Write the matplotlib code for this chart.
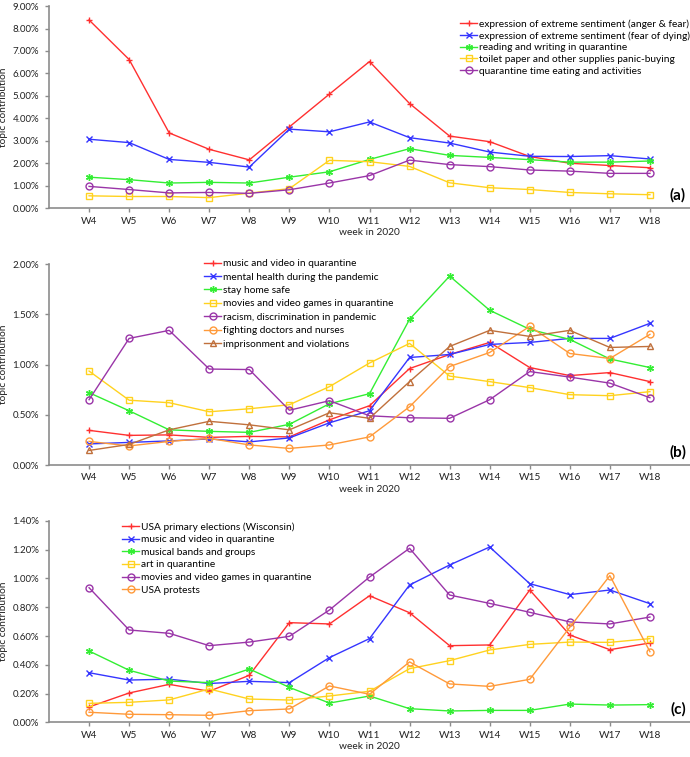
"""
Weekly topic contribution of COVID-19 discussion topics, weeks 4-18 of 2020.

Three stacked panels (a), (b), (c), one line per topic, Excel-like styling.
"""

import matplotlib
matplotlib.use("Agg")
import matplotlib.pyplot as plt
import numpy as np

plt.rcParams["font.family"] = ["Lato", "DejaVu Sans"]

WEEKS = [f"W{i}" for i in range(4, 19)]

# ---- panel (a) ----
A_LABELS = [
    "expression of extreme sentiment (anger & fear)",
    "expression of extreme sentiment (fear of dying)",
    "reading and writing in quarantine",
    "toilet paper and other supplies panic-buying",
    "quarantine time eating and activities",
]
a_anger = [8.38, 6.62, 3.35, 2.62, 2.15, 3.62, 5.08, 6.53, 4.66, 3.21, 2.96, 2.30, 2.00, 1.90, 1.80]
a_dying = [3.07, 2.92, 2.17, 2.04, 1.83, 3.52, 3.40, 3.84, 3.14, 2.90, 2.50, 2.31, 2.30, 2.34, 2.19]
a_reading = [1.38, 1.27, 1.12, 1.15, 1.12, 1.38, 1.62, 2.17, 2.65, 2.35, 2.26, 2.16, 2.05, 2.05, 2.10]
a_toilet = [0.55, 0.52, 0.52, 0.47, 0.67, 0.87, 2.13, 2.07, 1.86, 1.13, 0.91, 0.83, 0.70, 0.64, 0.60]
a_eating = [0.97, 0.83, 0.68, 0.70, 0.66, 0.82, 1.12, 1.45, 2.14, 1.94, 1.85, 1.70, 1.65, 1.55, 1.55]

# ---- panel (b) ----
B_LABELS = [
    "music and video in quarantine",
    "mental health during the pandemic",
    "stay home safe",
    "movies and video games in quarantine",
    "racism, discrimination in pandemic",
    "fighting doctors and nurses",
    "imprisonment and violations",
]
b_music = [0.345, 0.295, 0.30, 0.275, 0.285, 0.28, 0.45, 0.59, 0.96, 1.10, 1.22, 0.97, 0.89, 0.92, 0.83]
b_mental = [0.21, 0.225, 0.24, 0.26, 0.23, 0.27, 0.42, 0.54, 1.07, 1.10, 1.20, 1.22, 1.26, 1.26, 1.41]
b_stay = [0.72, 0.54, 0.35, 0.335, 0.325, 0.405, 0.61, 0.71, 1.45, 1.88, 1.54, 1.35, 1.25, 1.055, 0.97]
b_movies = [0.935, 0.645, 0.62, 0.53, 0.56, 0.60, 0.78, 1.015, 1.21, 0.885, 0.83, 0.77, 0.70, 0.69, 0.73]
b_racism = [0.65, 1.26, 1.34, 0.955, 0.95, 0.545, 0.64, 0.49, 0.47, 0.465, 0.65, 0.93, 0.875, 0.815, 0.67]
b_doctors = [0.235, 0.19, 0.235, 0.265, 0.20, 0.165, 0.20, 0.28, 0.58, 0.98, 1.12, 1.38, 1.11, 1.06, 1.30]
b_prison = [0.145, 0.205, 0.35, 0.435, 0.40, 0.35, 0.52, 0.465, 0.83, 1.18, 1.34, 1.28, 1.34, 1.17, 1.18]

# ---- panel (c) ----
C_LABELS = [
    "USA primary elections (Wisconsin)",
    "music and video in quarantine",
    "musical bands and groups",
    "art in quarantine",
    "movies and video games in quarantine",
    "USA protests",
]
c_elect = [0.107, 0.204, 0.264, 0.216, 0.327, 0.693, 0.684, 0.88, 0.762, 0.533, 0.538, 0.92, 0.607, 0.505, 0.552]
c_music = [0.345, 0.294, 0.30, 0.27, 0.285, 0.276, 0.45, 0.582, 0.955, 1.094, 1.219, 0.964, 0.888, 0.92, 0.825]
c_bands = [0.496, 0.362, 0.287, 0.276, 0.371, 0.243, 0.134, 0.183, 0.095, 0.079, 0.083, 0.083, 0.127, 0.12, 0.123]
c_art = [0.132, 0.139, 0.156, 0.232, 0.162, 0.155, 0.183, 0.216, 0.373, 0.429, 0.503, 0.542, 0.558, 0.556, 0.582]
c_movies = [0.936, 0.642, 0.619, 0.533, 0.558, 0.598, 0.781, 1.01, 1.21, 0.885, 0.827, 0.765, 0.698, 0.684, 0.732]
c_protest = [0.07, 0.056, 0.053, 0.049, 0.081, 0.093, 0.253, 0.195, 0.42, 0.267, 0.25, 0.299, 0.661, 1.02, 0.491]

RED, BLUE, GREEN = "#ff3030", "#3535ff", "#33ee33"
YELLOW, PURPLE, ORANGE, BROWN = "#ffd21f", "#9a35a8", "#ff9a3a", "#c0703c"
AXIS = "#8c8c8c"
STAR = (6, 2, 0)  # Excel-style asterisk marker
FS = 7.3


def draw_panel(ax, series, styles, ymax, ystep, tag, leg_xy, leg_space):
    x = np.arange(len(WEEKS))
    for (label, vals), (color, marker) in zip(series, styles):
        ax.plot(x, vals, color=color, lw=1.0, marker=marker, ms=5,
                mfc="none" if marker in ("s", "o", "^") else color,
                mew=1.0, label=label)
    ax.set_xlim(-1, len(WEEKS))
    ax.set_ylim(0, ymax)
    ax.set_xticks(x)
    ax.set_xticklabels(WEEKS)
    yt = np.arange(0, ymax + 1e-9, ystep)
    ax.set_yticks(yt)
    ax.set_yticklabels([f"{v:.2f}%" for v in yt])
    for s in ("top", "right"):
        ax.spines[s].set_visible(False)
    for s in ("left", "bottom"):
        ax.spines[s].set_color(AXIS)
        ax.spines[s].set_linewidth(1.2)
    ax.tick_params(colors=AXIS, labelcolor="#222222", labelsize=FS, length=3,
                   width=1.0)
    ax.tick_params(axis="y", labelsize=7.0, pad=4)
    ax.tick_params(axis="x", pad=3)
    ax.set_xlabel("week in 2020", fontsize=FS, color="#222222", labelpad=1.7)
    ax.set_ylabel("topic contribution", fontsize=FS, color="#222222")
    ax.yaxis.set_label_coords(-0.064, 0.5)
    ax.text(len(WEEKS) - 0.3, ymax * 0.065, tag, fontsize=11,
            fontweight="bold", ha="center", va="center")
    ax.legend(loc="upper left", bbox_to_anchor=leg_xy,
              bbox_transform=ax.figure.transFigure, frameon=False,
              fontsize=FS, handlelength=1.7, handletextpad=0.2,
              labelspacing=leg_space, borderpad=0, borderaxespad=0)


fig = plt.figure(figsize=(6.9, 7.57), dpi=100)
L, W = 49 / 690, 641 / 690

ax_a = fig.add_axes([L, 0.725, W, 0.267])
draw_panel(ax_a,
           list(zip(A_LABELS, [a_anger, a_dying, a_reading, a_toilet, a_eating])),
           [(RED, "+"), (BLUE, "x"), (GREEN, STAR), (YELLOW, "s"), (PURPLE, "o")],
           9.0, 1.0, "(a)", (460 / 690, 1 - 19 / 757), 0.25)

ax_b = fig.add_axes([L, 0.3857, W, 0.2655])
draw_panel(ax_b,
           list(zip(B_LABELS, [b_music, b_mental, b_stay, b_movies, b_racism,
                               b_doctors, b_prison])),
           [(RED, "+"), (BLUE, "x"), (GREEN, STAR), (YELLOW, "s"), (PURPLE, "o"),
            (ORANGE, "o"), (BROWN, "^")],
           2.0, 0.5, "(b)", (204 / 690, 1 - 259 / 757), 0.43)

ax_c = fig.add_axes([L, 0.0458, W, 0.266])
draw_panel(ax_c,
           list(zip(C_LABELS, [c_elect, c_music, c_bands, c_art, c_movies,
                               c_protest])),
           [(RED, "+"), (BLUE, "x"), (GREEN, STAR), (YELLOW, "s"), (PURPLE, "o"),
            (ORANGE, "o")],
           1.4, 0.2, "(c)", (122 / 690, 1 - 522 / 757), 0.35)

fig.savefig("out.png", dpi=100)
